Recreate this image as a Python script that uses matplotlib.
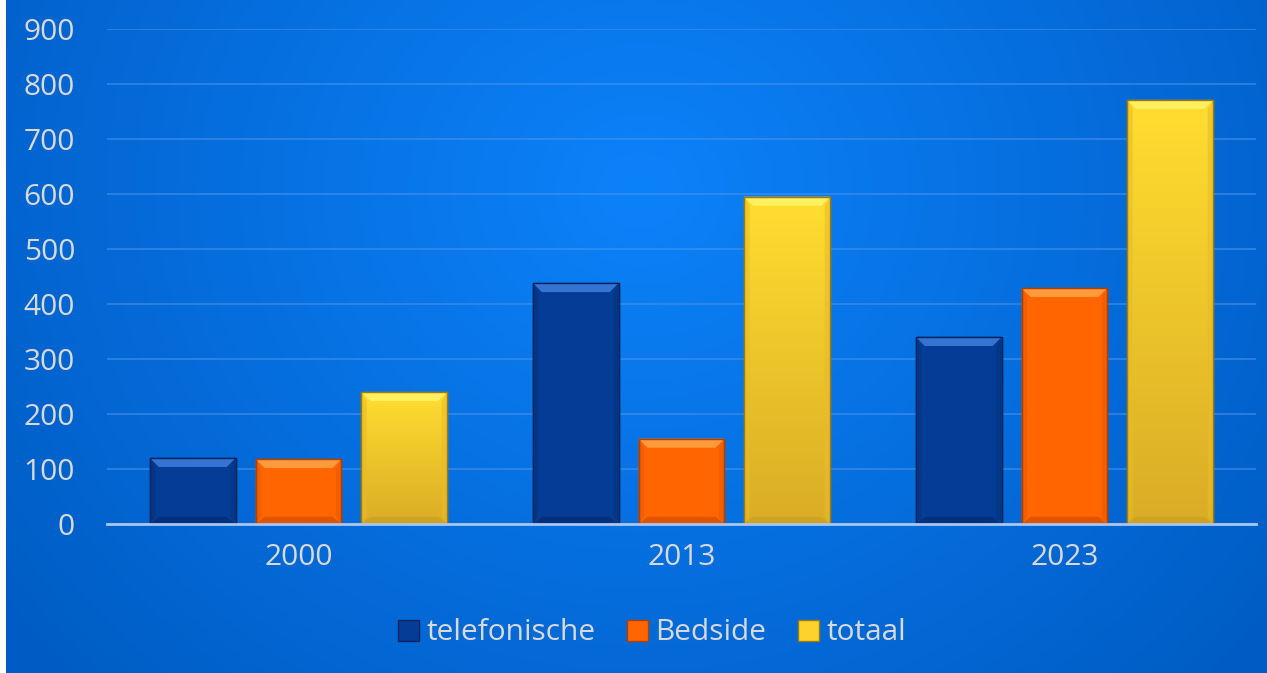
import numpy as np
import matplotlib
matplotlib.use("Agg")
import matplotlib.pyplot as plt
from matplotlib.patches import Polygon, Rectangle

# data
years = ["2000", "2013", "2023"]
telefonische = [120, 438, 340]
bedside = [118, 155, 429]
totaal = [240, 595, 771]
series_names = ["telefonische", "Bedside", "totaal"]

# kleuren: (body, top bevel, bottom bevel, side, edge)
colors = [
    ("#053c95", "#3574d2", "#032c72", "#04347f", "#02235c"),
    ("#ff6500", "#ff9a3a", "#d24d00", "#ea5a00", "#b04000"),
    ("#fdd22c", "#fff060", "#c9a020", "#e8bc28", "#9c7a10"),
]

plt.rcParams['font.family'] = ['Open Sans', 'DejaVu Sans']
text_color = "#d9d9d9"

W, H = 1267, 673
fig = plt.figure(figsize=(W / 100, H / 100), dpi=100)

# achtergrond: radiale gradient
bg_ax = fig.add_axes([0, 0, 1, 1], zorder=-5)
yy, xx = np.mgrid[0:H, 0:W]
d = np.sqrt(((xx - 640) / 1.0) ** 2 + ((yy - 190) / 0.9) ** 2)
t = np.clip(d / 800, 0, 1)[..., None]
inner = np.array([12, 130, 250]) / 255
outer = np.array([0, 92, 196]) / 255
img = inner * (1 - t) + outer * t
img[:, :6, :] = 1.0
bg_ax.imshow(img, aspect='auto', extent=[0, 1, 0, 1])
bg_ax.axis('off')

ax = fig.add_axes([107 / W, (H - 524) / H, (1256 - 107) / W, (524 - 29) / H])
ax.set_facecolor('none')
ax.set_xlim(-0.5, 2.5)
ax.set_ylim(0, 900)

x = np.arange(len(years))
width = 0.224
offset = 0.276
data = [telefonische, bedside, totaal]

fig.canvas.draw()
px_x = ax.transData.transform((1, 0))[0] - ax.transData.transform((0, 0))[0]
px_y = ax.transData.transform((0, 100))[1] - ax.transData.transform((0, 0))[1]
bx = 9 / px_x
by = 9 / (px_y / 100)

for i, vals in enumerate(data):
    body, top, bot, side, edge = colors[i]
    bars = ax.bar(x + (i - 1) * offset, vals, width, color=body,
                  edgecolor=edge, linewidth=1.0, zorder=3)
    for b in bars:
        x0, w, h = b.get_x(), b.get_width(), b.get_height()
        x1 = x0 + w
        # verticale schaduw in de balk
        if i == 2:
            grad = np.linspace(0, 1, 100)[:, None, None]
            c_top = np.array([255, 222, 48]) / 255
            c_bot = np.array([218, 172, 38]) / 255
            gimg = c_bot * grad + c_top * (1 - grad)
            im = ax.imshow(gimg, extent=[x0, x1, 0, h], aspect='auto', zorder=3.5)
            im.set_clip_path(b)
        ax.add_patch(Polygon([(x0, h), (x1, h), (x1 - bx, h - by), (x0 + bx, h - by)],
                             closed=True, facecolor=top, edgecolor='none', zorder=4))
        ax.add_patch(Polygon([(x0, 0), (x1, 0), (x1 - bx, by * 0.8), (x0 + bx, by * 0.8)],
                             closed=True, facecolor=bot, edgecolor='none', alpha=0.7, zorder=4))
        ax.add_patch(Polygon([(x0, 0), (x0, h), (x0 + bx * 0.6, h - by), (x0 + bx * 0.6, by * 0.8)],
                             closed=True, facecolor=side, edgecolor='none', alpha=0.6, zorder=4))
        ax.add_patch(Polygon([(x1, 0), (x1, h), (x1 - bx * 0.6, h - by), (x1 - bx * 0.6, by * 0.8)],
                             closed=True, facecolor=side, edgecolor='none', alpha=0.6, zorder=4))
        ax.add_patch(Rectangle((x0, 0), w, h, facecolor='none', edgecolor=edge,
                               linewidth=1.0, zorder=4.5))

ax.set_yticks(np.arange(0, 1000, 100))
ax.yaxis.grid(True, color="#4a94ea", linewidth=1.3, alpha=0.6)
ax.set_axisbelow(True)
for s in ['top', 'right', 'left']:
    ax.spines[s].set_visible(False)
ax.spines['bottom'].set_color("#a9c6ee")
ax.spines['bottom'].set_linewidth(2)
ax.spines['bottom'].set_zorder(5)

ax.set_xticks(x)
ax.set_xticklabels(years)
ax.tick_params(axis='both', length=0, labelsize=21.5, colors=text_color)
ax.tick_params(axis='x', pad=14)
ax.tick_params(axis='y', pad=23)

handles = [Rectangle((0, 0), 1, 1, facecolor=colors[i][0], edgecolor=colors[i][4], linewidth=1)
           for i in range(3)]
leg = fig.legend(handles, series_names, loc='center', bbox_to_anchor=(652 / W, 1 - 633 / H),
                 ncol=3, frameon=False, fontsize=21.5, handlelength=0.7, handleheight=0.7,
                 handletextpad=0.25, columnspacing=1.05)
for txt in leg.get_texts():
    txt.set_color(text_color)

fig.savefig("out.png", dpi=100)
